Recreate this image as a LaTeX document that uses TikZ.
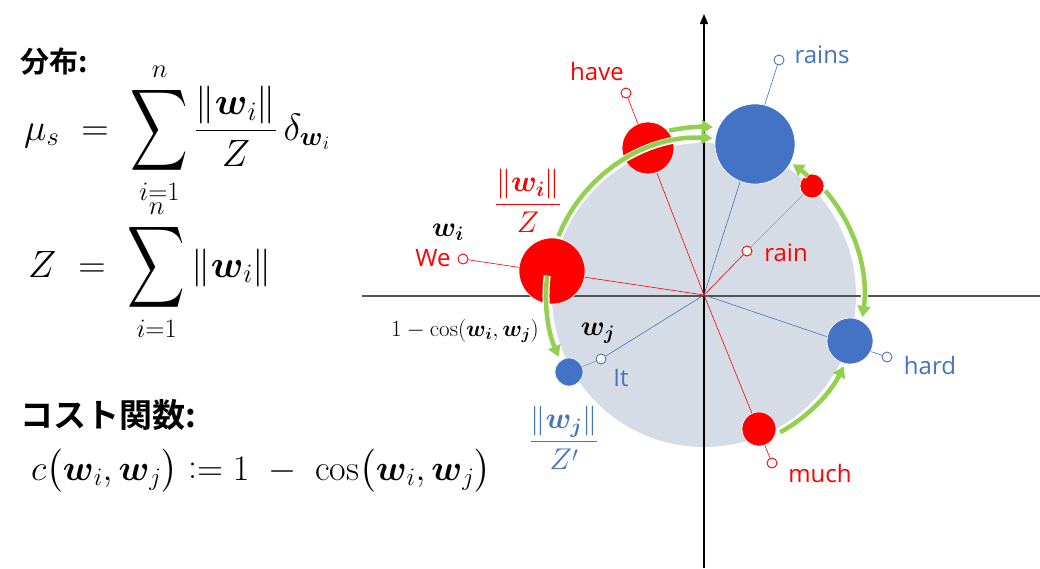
\RequirePackage{fix-cm}
\documentclass[tikz,border=0pt]{standalone}
\usepackage{amsmath,amssymb}
\usepackage{graphicx}
\usepackage{fontspec}
\newfontfamily\lab{Open Sans}
\newfontfamily\cjk{Noto Sans CJK JP}[BoldFont={Noto Sans CJK JP Bold}]
\usepackage{tikz}
\usetikzlibrary{arrows.meta,calc,backgrounds}
\definecolor{wred}{HTML}{FF0000}
\definecolor{wblue}{HTML}{4472C4}
\definecolor{wgreen}{HTML}{92D050}
\definecolor{disc}{HTML}{D6DCE5}
\newcommand\tallsum{\mathop{\vcenter{\hbox{\scalebox{1.05}[1.5]{$\displaystyle\sum$}}}}\limits}

\begin{document}
\begin{tikzpicture}[x=1pt, y=-1pt,
  word/.style={font=\lab\fontsize{24}{28}\selectfont, text=#1, inner sep=0pt},
  dot/.style={circle, fill=#1, draw=white, line width=.6pt, inner sep=0pt},
  tip/.style={circle, draw=#1, fill=white, line width=.9pt, minimum size=10pt, inner sep=0pt},
  ray/.style={draw=#1, line width=.6pt},
  link/.style={draw=gray!80, line width=.6pt},
  move/.style={draw=wgreen, line width=4.5pt, -{Triangle[length=11pt,width=13pt]},
    preaction={draw=white, line width=7pt, -, shorten >=6pt}},
  eq/.style={font=\fontsize{38}{44}\selectfont, inner sep=0pt, anchor=west},
  head/.style={font=\cjk\bfseries\fontsize{#1}{34}\selectfont, inner sep=0pt, anchor=west}]
\useasboundingbox (0,0) rectangle (1040,568);

% formulas on the left
\node[head=29] (distHead) at (20,62) {分布:};
\node[eq] (muEq) at (24,133) {$\displaystyle\mu_s \ =\ \tallsum_{i=1}^{n}\frac{\|\boldsymbol{w}_i\|}{Z}\,\delta_{\boldsymbol{w}_i}$};
\node[eq] (zEq) at (28,270) {$\displaystyle Z \ =\ \tallsum_{i=1}^{n}\|\boldsymbol{w}_i\|$};
\node[head=33] (costHead) at (20,415) {コスト関数:};
\node[eq, font=\fontsize{36}{42}\selectfont] (costEq) at (31,471) {$c\bigl(\boldsymbol{w}_i,\boldsymbol{w}_j\bigr) \mathrel{\mathop:}= 1\ -\ \cos\bigl(\boldsymbol{w}_i,\boldsymbol{w}_j\bigr)$};

% word circles
\coordinate (o) at (704,295);
\node[dot=wred,  minimum size=66pt] (weDot)    at (552,271) {};
\node[dot=wred,  minimum size=52pt] (haveDot)  at (648,148) {};
\node[dot=wblue, minimum size=80pt] (rainsDot) at (755,144) {};
\node[dot=wred,  minimum size=24pt] (rainDot)  at (812,186) {};
\node[dot=wblue, minimum size=46pt] (hardDot)  at (850,341) {};
\node[dot=wred,  minimum size=34pt] (muchDot)  at (759,429) {};
\node[dot=wblue, minimum size=28pt] (itDot)    at (569,372) {};

\node[tip=wred]  (weTip)    at (463,259) {};
\node[tip=wred]  (haveTip)  at (626,93)  {};
\node[tip=wblue] (rainsTip) at (779,60)  {};
\node[tip=wred]  (rainTip)  at (747,251) {};
\node[tip=wblue] (hardTip)  at (887,357) {};
\node[tip=wred]  (muchTip)  at (772,463) {};
\node[tip=wblue] (itTip)    at (601,359) {};

\begin{pgfonlayer}{background}
\fill[disc] (o) circle[radius=152];
\coordinate (xl) at (362,296); \coordinate (xr) at (1040,296);
\coordinate (yb) at (704,568); \coordinate (yt) at (704,14);
\draw[gray!65!black, line width=1.6pt] (xl) -- (xr);
\draw[black, line width=1.2pt, -{Triangle[length=10pt,width=8pt]}] (yb) -- (yt);
\draw[ray=wred]  (o) -- (weTip);
\draw[ray=wred]  (o) -- (haveTip);
\draw[ray=wblue] (o) -- (rainsTip);
\draw[ray=wred]  (o) -- (rainTip);
\draw[ray=wblue] (o) -- (hardTip);
\draw[ray=wred]  (o) -- (muchTip);
\draw[ray=wblue] (o) -- (itTip);
\end{pgfonlayer}
\draw[link] (rainTip) -- (rainDot);
\draw[link] (itTip) -- (itDot);

% transport arrows
\coordinate (g1) at ($(o)+(-158:157)$);
\coordinate (g2) at ($(o)+(-102:168)$);
\coordinate (g3) at ($(o)+(-40.7:160)$);
\coordinate (g4) at ($(o)+(-48.8:158)$);
\coordinate (g5) at ($(o)+(-173:158)$);
\coordinate (g6) at ($(o)+(61:157)$);
\draw[move] (g1) arc[start angle=-158, end angle=-87, radius=157];
\draw[move] (g2) arc[start angle=-102, end angle=-87, radius=168];
\draw[move] (g3) arc[start angle=-40.7, end angle=7.9, radius=160];
\draw[move] (g4) arc[start angle=-48.8, end angle=-55.8, radius=158];
\draw[move] (g5) arc[start angle=-173, end angle=-203, radius=158];
\draw[move] (g6) arc[start angle=61, end angle=27, radius=157];

% labels
\node[word=wred]  (haveLab)  at (597,71)  {have};
\node[word=wblue] (rainsLab) at (822,55)  {rains};
\node[word=wred]  (rainLab)  at (786,253) {rain};
\node[word=wred]  (weLab)    at (433,258) {We};
\node[word=wblue] (itLab)    at (621,378) {It};
\node[word=wblue] (hardLab)  at (930,365) {hard};
\node[word=wred]  (muchLab)  at (820,473) {much};
\node[font=\fontsize{28}{32}\selectfont, inner sep=0pt] (wiLab) at (448,232) {$\boldsymbol{w_i}$};
\node[font=\fontsize{28}{32}\selectfont, inner sep=0pt] (wjLab) at (598,333) {$\boldsymbol{w_j}$};
\node[text=wred, font=\fontsize{30}{34}\selectfont, inner sep=0pt] (wiFrac) at (528,201) {$\dfrac{\|\boldsymbol{w_i}\|}{Z}$};
\node[text=wblue, font=\fontsize{30}{34}\selectfont, inner sep=0pt] (wjFrac) at (564,438) {$\dfrac{\|\boldsymbol{w_j}\|}{Z'}$};
\node[font=\fontsize{23}{27}\selectfont, inner sep=0pt] (costLab) at (465,331) {$1-\cos(\boldsymbol{w_i},\boldsymbol{w_j})$};
\end{tikzpicture}
\end{document}
